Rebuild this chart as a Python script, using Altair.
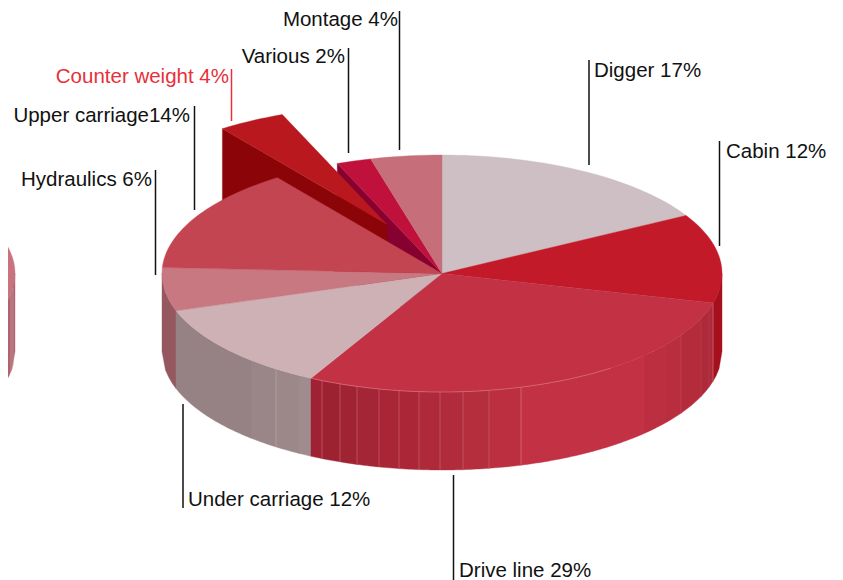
import math
import altair as alt

# ---- data ----
NAMES = ["Digger", "Cabin", "Drive line", "Under carriage", "Hydraulics",
         "Upper carriage", "Counter weight", "Various", "Montage"]
VALUES = [16.85, 12.15, 28.75, 12.15, 5.9, 14.2, 3.9, 2, 4.1]
TOP_COLORS = ["#CDBFC3", "#C31A2A", "#C33144", "#CDB1B5", "#C87880",
              "#C44552", "#B9181E", "#C0103C", "#C66E7A"]
LABELS = ["Digger 17%", "Cabin 12%", "Drive line 29%", "Under carriage 12%", "Hydraulics 6%",
          "Upper carriage14%", "Counter weight 4%", "Various 2%", "Montage 4%"]
LABEL_X = [594, 726, 459, 188, 152, 190, 229, 345, 398]
LABEL_Y = [77, 158, 577, 506, 186, 122, 83, 63, 26]
LABEL_ALIGN = ["left", "left", "left", "left", "right", "right", "right", "right", "right"]
LABEL_COLOR = ["#111111"] * 6 + ["#E8303A"] + ["#111111"] * 2
RULE_X = [589, 719.5, 453.5, 183, 155.5, 194.5, 231.5, 348.5, 399.5]
RULE_Y1 = [60, 141, 475, 404, 170, 106, 69, 48, 11]
RULE_Y2 = [165, 246, 580, 508, 275, 210, 121, 153, 150]

# front wall strips: left edge, right edge, colour
WALL_X = [162, 176, 251, 276, 299, 311, 322, 340, 357, 379, 399, 419, 440, 463, 489,
          521, 645, 667, 681, 701, 713, 722]
WALL_COLORS = ["#96585F", "#968284", "#9A8688", "#9C8889", "#A08C8E", "#9E2233", "#9C2232",
               "#A02333", "#A42535", "#A82636", "#AB2737", "#AE2A3A", "#B02C3C", "#B52E3E",
               "#BC2F40", "#C33144", "#BC2F40", "#B82E3E", "#B42C3C", "#AD2A3A", "#A5101C"]
SEAM_X = [276, 322, 340, 357, 379, 399, 419, 440, 463, 489, 521, 681, 701, 709, 713]
SEAM_COLORS = ["#B8A8AA"] + ["#C8606E"] * 9 + ["#D87888", "#C4485A", "#BC4052", "#B83E50", "#D87888"]
RIM_X = [311, 612]
OTHER_TOP = "#C87480"
OTHER_WALL = "#AE6470"
OTHER_SEAMS = [11, 13]
COUNTER_WALL = "#8B0508"
VARIOUS_WALL = "#860030"

CX, CY, RX, RY, DEPTH = 442, 273.5, 280, 118.5, 78
OFFSET = (-55, -49)
OX = 15 - RX


def pt(a, cx=CX, cy=CY):
    r = math.radians(a)
    return [cx + RX * math.sin(r), cy - RY * math.cos(r)]


def front_y(x, cx=CX):
    u = max(-1.0, min(1.0, (x - cx) / RX))
    return CY + RY * math.sqrt(1 - u * u)


def feat(ring, fill):
    return {"type": "Feature", "properties": {"c": fill},
            "geometry": {"type": "Polygon", "coordinates": [ring]}}


def line(points, color):
    return {"type": "Feature", "properties": {"c": color},
            "geometry": {"type": "LineString", "coordinates": points}}


def sector(a0, a1, cx=CX, cy=CY):
    n = max(4, int((a1 - a0) / 1.5))
    ring = [[cx, cy]] + [pt(a0 + (a1 - a0) * i / n, cx, cy) for i in range(n + 1)] + [[cx, cy]]
    return ring


def wall(x0, x1, cx=CX):
    n = max(2, int((x1 - x0) / 3))
    xs = [x0 + (x1 - x0) * i / n for i in range(n + 1)]
    top = [[x, front_y(x, cx)] for x in xs]
    bottom = [[x, front_y(x, cx) + DEPTH] for x in reversed(xs)]
    return top + bottom + [top[0]]


angles = [0]
for v in VALUES:
    angles.append(angles[-1] + v * 3.6)

fills = []
# neighbouring pie, cut by the page edge
fills.append(feat(wall(OX + RX - 60, OX + RX, OX), OTHER_WALL))
fills.append(feat(sector(0, 360, OX, CY), OTHER_TOP))

# open faces seen through the gap left by the pulled-out slice
i_c = NAMES.index("Counter weight")
a = pt(angles[i_c + 1])
fills.append(feat([a, [CX, CY], [CX, CY + DEPTH], [a[0], a[1] + DEPTH], a], VARIOUS_WALL))
cxo, cyo = CX + OFFSET[0], CY + OFFSET[1]
b = pt(angles[i_c], cxo, cyo)
fills.append(feat([b, [cxo, cyo], [cxo, cyo + DEPTH], [b[0], b[1] + DEPTH], b], COUNTER_WALL))
fills.append(feat(sector(angles[i_c], angles[i_c + 1], cxo, cyo), TOP_COLORS[i_c]))

# front wall
for x0, x1, c in zip(WALL_X[:-1], WALL_X[1:], WALL_COLORS):
    fills.append(feat(wall(x0, x1), c))

# top faces
for k, c in enumerate(TOP_COLORS):
    if k != i_c:
        fills.append(feat(sector(angles[k], angles[k + 1]), c))

lines = []
for x, c in zip(SEAM_X, SEAM_COLORS):
    lines.append(line([[x, front_y(x)], [x, front_y(x) + DEPTH]], c))
for x in OTHER_SEAMS:
    lines.append(line([[x, front_y(x, OX)], [x, front_y(x, OX) + DEPTH]], "#CF98A2"))
rim = [[x, front_y(x)] for x in range(RIM_X[0], RIM_X[1], 4)]
lines.append(line(rim, "#D9707F"))

proj = alt.Projection(type="identity", scale=1, translate=[-8, -8])

shapes = alt.Chart(alt.Data(values=fills)).mark_geoshape(strokeWidth=0.4).encode(
    fill=alt.Color("properties.c:N", scale=None),
    stroke=alt.Color("properties.c:N", scale=None),
).project(**proj.to_dict())

seams = alt.Chart(alt.Data(values=lines)).mark_geoshape(filled=False, strokeWidth=0.7).encode(
    stroke=alt.Color("properties.c:N", scale=None),
).project(**proj.to_dict())

xs = alt.Scale(domain=[8, 835], nice=False, zero=False)
ys = alt.Scale(domain=[580, 8], nice=False, zero=False)

rows = [dict(label=l, x=x, y=y, align=a_, color=c, rx=rx, y1=y1, y2=y2)
        for l, x, y, a_, c, rx, y1, y2 in zip(LABELS, LABEL_X, LABEL_Y, LABEL_ALIGN, LABEL_COLOR,
                                               RULE_X, RULE_Y1, RULE_Y2)]
base = alt.Chart(alt.Data(values=rows))

rules = base.mark_rule(strokeWidth=1.5, clip=False).encode(
    x=alt.X("rx:Q", scale=xs, axis=None),
    y=alt.Y("y1:Q", scale=ys, axis=None),
    y2="y2:Q",
    color=alt.Color("color:N", scale=None),
)


def texts(al):
    return alt.Chart(alt.Data(values=[r for r in rows if r["align"] == al])).mark_text(
        align=al, baseline="alphabetic", font="Liberation Sans", fontSize=20.5, clip=False
    ).encode(
        x=alt.X("x:Q", scale=xs, axis=None),
        y=alt.Y("y:Q", scale=ys, axis=None),
        text="label:N",
        color=alt.Color("color:N", scale=None),
    )


chart = alt.layer(shapes, seams, rules, texts("left"), texts("right")).properties(
    width=827, height=572, padding=0,
    autosize=alt.AutoSizeParams(type="none"),
    background="white",
).configure_view(stroke=None)

chart.save("out.html", embed_options={"renderer": "svg", "actions": False})
